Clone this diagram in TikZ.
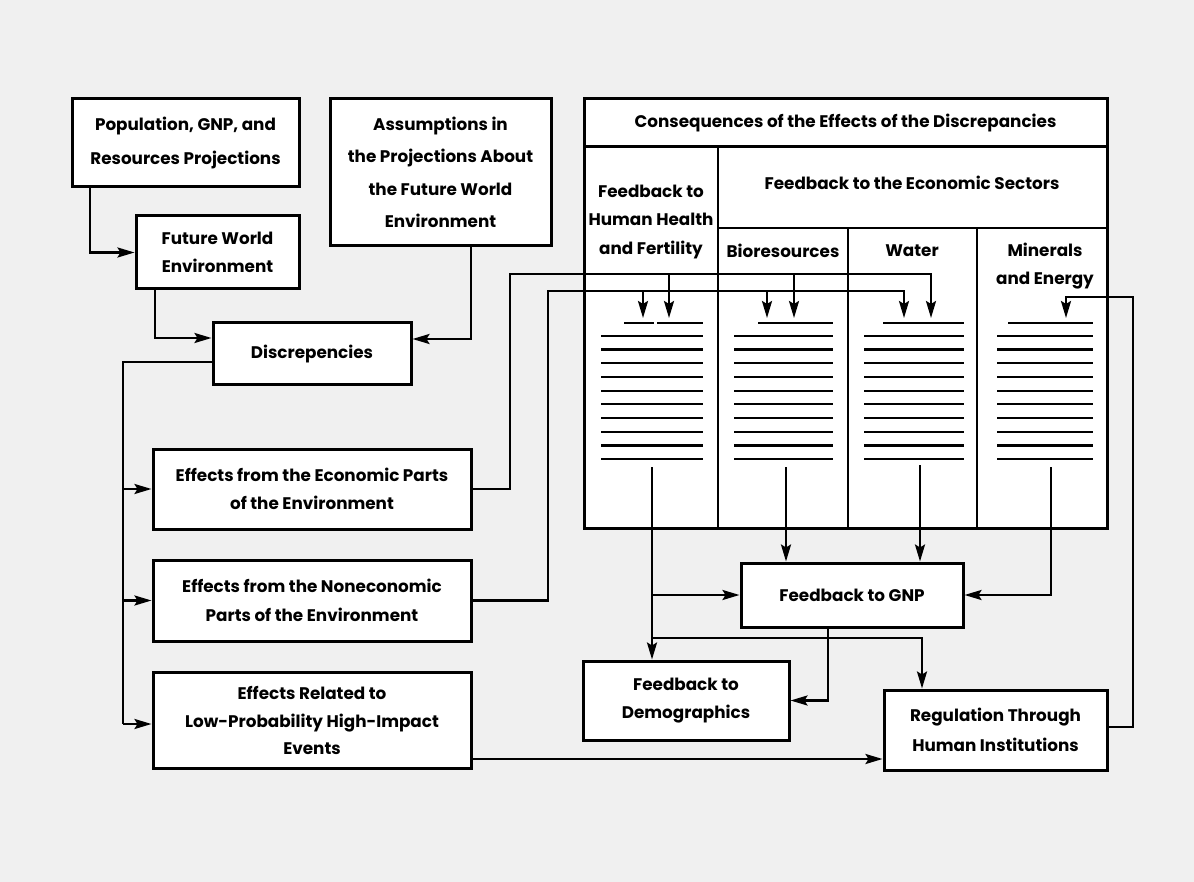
\documentclass[tikz,border=0pt]{standalone}
\usepackage{fontspec}
\setmainfont{Poppins}
\usetikzlibrary{arrows.meta,calc}
\begin{document}
\begin{tikzpicture}[x=1pt,y=-1pt,
  box/.style={draw, line width=3pt, fill=white, inner sep=0pt, align=center,
    font=\fontsize{16.8}{28.5}\selectfont\bfseries},
  lbl/.style={inner sep=0pt, align=center, font=\fontsize{16.8}{28.5}\selectfont\bfseries},
  conn/.style={line width=2.4pt},
  arr/.style={conn, -{Stealth[length=17pt,width=10pt,inset=3pt]}},
  tline/.style={line width=2.2pt},
  stub/.style={line width=1.2pt},
  divider/.style={line width=2pt}]
\useasboundingbox (0,0) rectangle (1194,882);
\fill[black!6] (0,0) rectangle (1194,882);

% ---------------- left column boxes ----------------
\node[box, minimum width=227pt, minimum height=88pt] (pop) at (185.5,143)
  {Population, GNP, and\\[6pt]Resources Projections};
\node[box, minimum width=163pt, minimum height=73pt] (fwe) at (217.5,252.5)
  {Future World\\Environment};
\node[box, minimum width=221pt, minimum height=147pt] (asm) at (440.5,172.5)
  {Assumptions in\\[4pt]the Projections About\\[4pt]the Future World\\[4pt]Environment};
\node[box, minimum width=198pt, minimum height=62pt] (disc) at (312,354)
  {Discrepencies};
\node[box, minimum width=318pt, minimum height=80pt] (eco) at (312,489)
  {Effects from the Economic Parts\\of the Environment};
\node[box, minimum width=318pt, minimum height=81pt] (neco) at (312,600.5)
  {Effects from the Noneconomic\\Parts of the Environment};
\node[box, minimum width=318pt, minimum height=96pt] (lowp) at (312,720)
  {Effects Related to\\Low-Probability High-Impact\\[-2pt]Events};

% ---------------- consequences table ----------------
\node[box, minimum width=523pt, minimum height=429pt] (cons) at (845.5,313.5) {};
\draw[line width=3pt] (584,147) -- (1107,147);
\draw[divider] (718,147) -- (718,528);
\draw[line width=2.6pt] (718,228) -- (1107,228);
\draw[divider] (848,228) -- (848,528);
\draw[divider] (977,228) -- (977,528);

\node[lbl] (t0) at (845.5,123) {Consequences of the Effects of the Discrepancies};
\node[lbl] (t1) at (651,222) {Feedback to\\Human Health\\and Fertility};
\node[lbl] (t2) at (912,183) {Feedback to the Economic Sectors};
\node[lbl] (t3) at (783,251) {Bioresources};
\node[lbl] (t4) at (912,251) {Water};
\node[lbl] (t5) at (1045,266) {Minerals\\and Energy};

% text-line marks in each column
\draw[tline] (624,323) -- (654,323) (657,323) -- (703,323);
\draw[tline] (758,323) -- (833,323);
\draw[tline] (883,323) -- (964,323);
\draw[tline] (1008,323) -- (1093,323);
\foreach \i in {0,...,9}{
  \pgfmathsetmacro{\yy}{335.7+13.73*\i}
  \draw[tline] (601,\yy) -- (703,\yy);
  \draw[tline] (734,\yy) -- (833,\yy);
  \draw[tline] (864,\yy) -- (964,\yy);
  \draw[tline] (997,\yy) -- (1093,\yy);
}

% ---------------- lower right boxes ----------------
\node[box, minimum width=222pt, minimum height=64pt] (gnp) at (852,595)
  {Feedback to GNP};
\node[box, minimum width=206pt, minimum height=79pt] (demo) at (686,700.5)
  {Feedback to\\Demographics};
\node[box, minimum width=223pt, minimum height=80pt] (reg) at (995.5,730)
  {Regulation Through\\[2pt]Human Institutions};

% ---------------- coordinates ----------------
\coordinate (p1) at (90,253);
\coordinate (f1) at (155,338);
\coordinate (a1) at (471,339);
\coordinate (lv) at (123,724);
\coordinate (ea) at (510,274);
\coordinate (na) at (548,291);
\coordinate (h1) at (643,318);
\coordinate (h2) at (669,318);
\coordinate (b1) at (767,318);
\coordinate (b2) at (794,318);
\coordinate (w1) at (904,318);
\coordinate (w2) at (931,318);
\coordinate (m1) at (1066,318);
\coordinate (rr) at (1133,297);
\coordinate (hs) at (652,467);
\coordinate (bs) at (786,467);
\coordinate (ws) at (920,465);
\coordinate (ms) at (1051,467);
\coordinate (r1) at (922,638);
\coordinate (g1) at (828,698);
\coordinate (l1) at (0,759);

% ---------------- connectors ----------------
\draw[arr] (pop.south -| p1) |- (fwe.west);
\draw[arr] (fwe.south -| f1) |- (disc.west |- f1);
\draw[arr] (asm.south -| a1) |- (disc.east |- a1);

\draw[conn] ([yshift=-8pt]disc.west) -| (lv);
\draw[arr] (eco.west -| lv) -- (eco.west);
\draw[arr] (neco.west -| lv) -- (neco.west);
\draw[arr] (lv) -- (lowp.west |- lv);

% economic effects -> columns
\draw[arr] (eco.east) -| (ea) -| (w2);
\draw[arr] (h2 |- ea) -- (h2);
\draw[arr] (b2 |- ea) -- (b2);
% noneconomic effects -> columns
\draw[arr] (neco.east) -| (na) -| (w1);
\draw[arr] (h1 |- na) -- (h1);
\draw[arr] (b1 |- na) -- (b1);

% column outputs
\draw[stub] (hs) -- (hs |- cons.south);
\draw[arr] (hs |- cons.south) -- (hs |- demo.north);
\draw[arr] (hs |- gnp.west) -- (gnp.west);
\draw[arr] (hs |- r1) -| (r1 |- reg.north);
\draw[stub] (bs) -- (bs |- cons.south);
\draw[arr] (bs |- cons.south) -- (bs |- gnp.north);
\draw[stub] (ws) -- (ws |- cons.south);
\draw[arr] (ws |- cons.south) -- (ws |- gnp.north);
\draw[stub] (ms) -- (ms |- cons.south);
\draw[arr] (ms |- cons.south) |- (gnp.east);

% GNP -> demographics
\draw[arr] (gnp.south -| g1) |- (demo.east);
% low probability -> regulation
\draw[arr] (lowp.east |- l1) -- (reg.west |- l1);
% regulation -> minerals and energy
\draw[arr] ([yshift=3pt]reg.east) -| (rr) -| (m1);
\end{tikzpicture}
\end{document}
